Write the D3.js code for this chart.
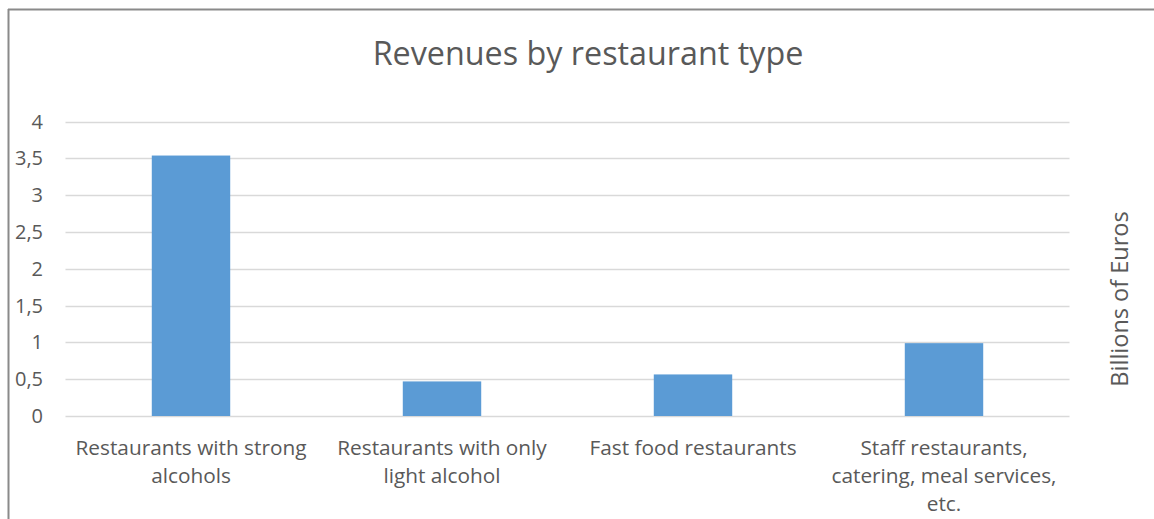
<!DOCTYPE html>
<html>
<head>
<meta charset="utf-8">
<script src="https://cdn.jsdelivr.net/npm/d3@7"></script>
<style>
  html, body { margin: 0; padding: 0; background: #fff; }
  svg { display: block; font-family: "Open Sans", "Lato", sans-serif; }
</style>
</head>
<body>
<svg id="chart" width="1154" height="519"></svg>
<script>
// Revenue per restaurant category, billions of euros
const categories = [
  "Restaurants with strong alcohols",
  "Restaurants with only light alcohol",
  "Fast food restaurants",
  "Staff restaurants, catering, meal services, etc."
];
const revenues = [3.54, 0.47, 0.565, 0.99];
const yTicks = [0, 0.5, 1, 1.5, 2, 2.5, 3, 3.5, 4];
const chartTitle = "Revenues by restaurant type";
const yTitle = "Billions of Euros";

const svg = d3.select("#chart");
const W = 1154, H = 519;
const plot = { left: 65.5, right: 1069.5, top: 121.7, bottom: 416 };
const textColor = "#595959";
const labelFont = "20.8px";

// outer frame (top and left edges visible)
svg.append("line").attr("x1", 8).attr("x2", W).attr("y1", 9.5).attr("y2", 9.5)
  .attr("stroke", "#8a8a8a").attr("stroke-width", 2);
svg.append("line").attr("x1", 8.5).attr("x2", 8.5).attr("y1", 9).attr("y2", H)
  .attr("stroke", "#8a8a8a").attr("stroke-width", 2);

const x = d3.scaleBand().domain(categories)
  .range([plot.left, plot.right]).paddingInner(0.6875).paddingOuter(0.34375);
const y = d3.scaleLinear().domain([0, 4]).range([plot.bottom, plot.top]);

// horizontal gridlines
svg.append("g").selectAll("line").data(yTicks).join("line")
  .attr("x1", plot.left).attr("x2", plot.right)
  .attr("y1", d => Math.round(y(d)) + 0.5).attr("y2", d => Math.round(y(d)) + 0.5)
  .attr("stroke", "#d9d9d9").attr("stroke-width", 1.3);

// y axis labels
const yAxis = d3.axisLeft(y).tickValues(yTicks).tickSize(0).tickPadding(0)
  .tickFormat(d => String(d).replace(".", ","));
const gy = svg.append("g").attr("transform", `translate(43,0)`).call(yAxis);
gy.select(".domain").remove();
gy.selectAll("text").attr("fill", textColor).style("font-size", "20px")
  .style("font-family", "'Open Sans', Lato, sans-serif");

// bars
svg.append("g").selectAll("rect").data(revenues).join("rect")
  .attr("x", (d, i) => x(categories[i]))
  .attr("width", x.bandwidth())
  .attr("y", d => y(d))
  .attr("height", d => y(0) - y(d))
  .attr("fill", "#5b9bd5");

// bottom x axis with wrapped category labels
const xAxis = d3.axisBottom(x).tickSize(0).tickPadding(0);
const gx = svg.append("g").attr("transform", `translate(0,${plot.bottom})`).call(xAxis);
gx.select(".domain").remove();
gx.selectAll("text").attr("fill", textColor).style("font-size", labelFont)
  .style("font-family", "'Open Sans', Lato, sans-serif")
  .attr("y", 0).attr("dy", null)
  .each(function(d) { wrap(d3.select(this), d, 242); });

function wrap(textSel, str, maxW) {
  const words = str.split(/\s+/);
  textSel.text(null);
  let line = [];
  let lineNo = 0;
  let tspan = textSel.append("tspan").attr("x", 0).attr("y", 39);
  for (const w of words) {
    line.push(w);
    tspan.text(line.join(" "));
    if (tspan.node().getComputedTextLength() > maxW && line.length > 1) {
      line.pop();
      tspan.text(line.join(" "));
      line = [w];
      lineNo++;
      tspan = textSel.append("tspan").attr("x", 0).attr("y", 39 + lineNo * 28).text(w);
    }
  }
}

// title
svg.append("text").attr("x", 588).attr("y", 65)
  .attr("text-anchor", "middle").attr("fill", textColor)
  .style("font-size", "32.3px").text(chartTitle);

// right-hand value axis title
svg.append("text")
  .attr("transform", `translate(1128,299) rotate(-90)`)
  .attr("text-anchor", "middle").attr("fill", textColor)
  .style("font-size", "23.5px").text(yTitle);
</script>
</body>
</html>
